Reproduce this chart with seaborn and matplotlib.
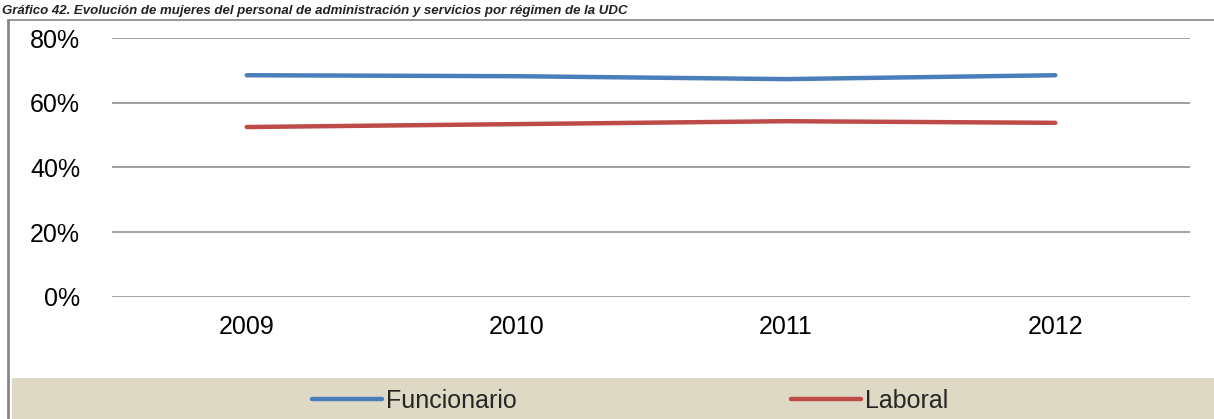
import matplotlib
matplotlib.use("Agg")
import matplotlib.pyplot as plt
import seaborn as sns
import pandas as pd
from matplotlib.patches import Rectangle
from matplotlib.lines import Line2D

years = ["2009", "2010", "2011", "2012"]
funcionario = [68.5, 68.2, 67.3, 68.5]
laboral = [52.5, 53.4, 54.3, 53.8]
series_names = ["Funcionario", "Laboral"]
colors = ["#4A7EBB", "#BE4B48"]
yticks = [0, 20, 40, 60, 80]
ytick_labels = ["0%", "20%", "40%", "60%", "80%"]
title = "Gráfico 42. Evolución de mujeres del personal de administración y servicios por régimen de la UDC"

sns.set_theme(style="white")
plt.rcParams['font.family'] = ['Liberation Sans', 'DejaVu Sans']

W, H = 1214, 419
fig = plt.figure(figsize=(W / 100, H / 100), dpi=100)

# plot area: x 112..1190, y 38..297 (pixel coords from top)
ax = fig.add_axes([112 / W, 1 - 297 / H, (1190 - 112) / W, (297 - 38) / H])

df = pd.DataFrame({
    "year": years * 2,
    "value": funcionario + laboral,
    "series": [series_names[0]] * 4 + [series_names[1]] * 4,
})
sns.lineplot(data=df, x="year", y="value", hue="series", palette=colors,
             linewidth=3.2, ax=ax, legend=False, sort=False)

ax.set_xlim(-0.5, 3.5)
ax.set_ylim(0, 80)
ax.set_yticks(yticks)
ax.set_yticklabels(ytick_labels)
ax.set_xlabel("")
ax.set_ylabel("")
for s in ax.spines.values():
    s.set_visible(False)
ax.grid(axis="y", color="#868686", linewidth=1.1)
ax.grid(axis="x", visible=False)
ax.set_axisbelow(True)
ax.tick_params(axis="y", length=0, pad=23, labelsize=18, colors="black")
ax.tick_params(axis="x", length=0, pad=13, labelsize=18, colors="black")

# outer chart frame
fig.add_artist(Line2D([8 / W, 8 / W], [0, 1 - 20 / H], transform=fig.transFigure,
                      color="#888888", linewidth=2))
fig.add_artist(Line2D([8 / W, 1], [1 - 20 / H, 1 - 20 / H], transform=fig.transFigure,
                      color="#888888", linewidth=1.2))

# legend band
fig.add_artist(Rectangle((12 / W, 0), 1 - 12 / W, (419 - 378) / H,
                         transform=fig.transFigure, facecolor="#DDD9C4",
                         edgecolor="none", zorder=0))
handles = [Line2D([], [], color=c, linewidth=3.2) for c in colors]
leg = fig.legend(handles, series_names, loc="center", ncol=2,
                 bbox_to_anchor=(630 / W, 1 - 401 / H), frameon=False,
                 fontsize=18, handlelength=2.8, handletextpad=0.15,
                 columnspacing=11.0, borderpad=0.0)

# title at top (partially hidden in the original, kept fully visible here)
fig.text(2 / W, 1 - 14 / H, title, fontsize=9.5, fontstyle="italic",
         fontweight="bold", va="baseline", ha="left", color="#222222")

fig.savefig("out.png", dpi=100)
